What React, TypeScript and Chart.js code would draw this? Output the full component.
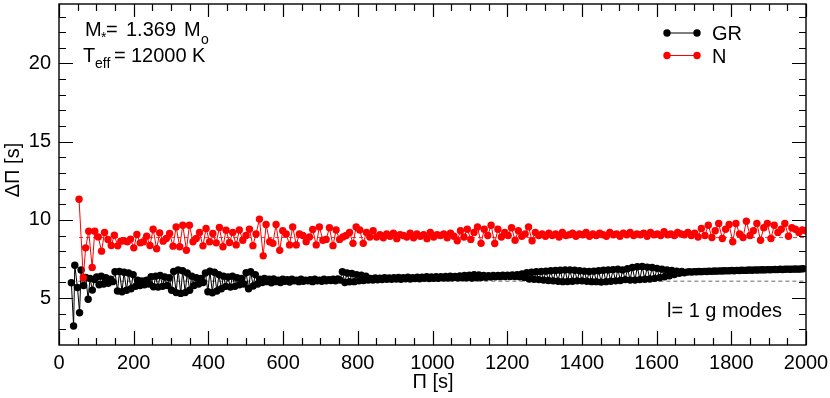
import { useEffect, useRef } from "react";
import { Chart, registerables } from "chart.js";

Chart.register(...registerables);

// ---- Data (ΔΠ_k = Π_{k+1} − Π_k) ----
const seriesLabels = ["GR", "N"];

// first period of each sequence [s]
const firstPeriodGR = 33.1;
const firstPeriodN = 53.7;

// period spacings ΔΠ [s], GR (black)
const deltaPiGR = [
  5.98, 3.21, 7.1, 5.68, 4.06, 6.79, 5.8, 6.32, 4.92, 6.26, 5.51, 6.19,
  6.35, 5.85, 6.4, 5.9, 6.3, 5.95, 6.2, 6.05,
  6.68, 5.45, 6.7, 5.4, 6.65, 5.5, 6.6, 5.6, 6.5,
  5.75, 6.15, 5.8, 6.1, 5.85, 6.15, 5.9,
  6.36, 5.72, 6.4, 5.7, 6.45, 5.75, 6.35, 5.8, 6.3,
  5.5, 6.7, 5.35, 6.79, 5.3, 6.75, 5.35, 6.6, 5.5, 6.4,
  5.8, 6.3, 5.9, 6.25, 6.0,
  6.6, 5.4, 6.72, 5.34, 6.65, 5.45, 6.5, 5.6, 6.4,
  5.75, 6.35, 5.7, 6.4, 5.75, 6.3, 5.85, 6.25, 5.9,
  6.62, 5.6, 6.68, 5.77, 6.5, 5.9,
  6.2, 6.0, 6.25, 6.05, 6.2, 5.98, 6.22, 6.05, 6.15, 6.0,
  6.2, 6.08, 6.18, 6.02, 6.2, 6.1, 6.15, 6.05, 6.2, 6.08,
  6.15, 6.1, 6.18, 6.05, 6.2, 6.1, 6.15, 6.08, 6.2, 6.1,
  6.18, 6.12, 6.2, 6.1, 6.22, 6.15,
  6.68, 6.0, 6.6, 6.04, 6.57, 6.05, 6.5, 6.1, 6.47, 6.12, 6.4, 6.15,
  6.25, 6.15, 6.28, 6.17, 6.27, 6.18, 6.3, 6.2, 6.28, 6.2,
  6.3, 6.22, 6.32, 6.2, 6.3, 6.24, 6.33, 6.22, 6.31, 6.25,
  6.34, 6.24, 6.33, 6.26, 6.36, 6.25, 6.35, 6.27, 6.37, 6.27,
  6.36, 6.29, 6.38, 6.28, 6.4, 6.3, 6.39, 6.3, 6.42, 6.3,
  6.44, 6.3, 6.46, 6.28, 6.5, 6.3, 6.48, 6.32, 6.45, 6.33,
  6.43, 6.35, 6.44, 6.36, 6.45, 6.37, 6.46, 6.38, 6.47, 6.38,
  6.48, 6.38, 6.5, 6.36, 6.55, 6.32,
  6.62, 6.22, 6.65, 6.2, 6.68, 6.18, 6.7, 6.15, 6.72, 6.12,
  6.75, 6.1, 6.76, 6.08, 6.78, 6.05, 6.8, 6.06, 6.8, 6.08,
  6.78, 6.1, 6.75, 6.1, 6.72, 6.08, 6.7, 6.05, 6.72, 6.05,
  6.75, 6.02, 6.78, 6.05, 6.8, 6.08, 6.82, 6.1, 6.85, 6.12,
  6.8, 6.18, 6.88, 6.15, 6.95, 6.15, 7.0, 6.18, 7.02, 6.2,
  6.98, 6.22, 6.95, 6.26, 6.9, 6.3, 6.85, 6.36, 6.8, 6.42,
  6.76, 6.5, 6.72, 6.58, 6.7, 6.62,
  6.66, 6.68, 6.66, 6.69, 6.68, 6.7, 6.69, 6.71, 6.7, 6.72,
  6.71, 6.73, 6.72, 6.74, 6.73, 6.75, 6.74, 6.75, 6.76, 6.75,
  6.77, 6.76, 6.78, 6.77, 6.78, 6.79, 6.78, 6.8, 6.79, 6.8,
  6.81, 6.8, 6.82, 6.81, 6.82, 6.83, 6.82, 6.84, 6.83, 6.84,
  6.85, 6.84, 6.85, 6.86, 6.85, 6.86, 6.87,
];

// period spacings ΔΠ [s], N (red)
const deltaPiN = [
  11.32, 6.3, 8.21, 9.27, 6.96, 9.27, 8.91, 8.0, 9.19, 8.74,
  8.36, 9.02, 8.34, 8.64, 8.66, 8.6, 8.77, 8.21, 9.06, 8.53,
  8.6, 8.96, 8.36, 9.4, 8.15, 9.17, 8.64, 8.81, 9.13, 8.32,
  9.55, 8.28, 9.66, 8.06, 9.66, 8.6, 8.81, 9.19, 8.34, 9.45,
  8.6, 9.13, 8.53, 9.51, 8.28, 9.34,
  8.55, 9.2, 8.4, 9.35, 8.7, 9.0, 9.4, 8.35, 9.1,
  10.05, 7.7, 9.7, 8.6, 8.5, 9.7, 8.05, 9.3, 9.1, 8.4,
  9.55, 8.4, 9.1, 9.0, 8.6, 8.9, 9.38, 8.4, 9.55, 8.7,
  8.75, 9.5, 8.35, 9.35, 8.75, 8.9, 9.0, 9.2, 8.5, 9.55,
  9.35, 8.5, 9.2, 8.9, 9.3, 8.9,
  9.05, 8.85, 9.1, 8.95, 9.15, 8.8, 9.05, 9.0, 8.9, 9.15,
  8.85, 9.1, 8.95, 9.05, 8.8, 9.2, 8.9, 9.05, 9.0, 9.1,
  8.85, 9.15, 8.95,
  8.66, 9.3, 8.9, 9.4, 8.75, 9.2, 9.55, 8.5, 9.4, 9.0,
  9.66, 8.49, 9.4, 8.9, 9.2, 9.0, 9.5, 8.7, 9.3, 8.95,
  9.1, 9.55, 8.66, 9.2, 9.0,
  9.1, 8.95, 9.15, 9.0, 9.1, 8.9, 9.2, 9.0, 9.05, 9.15,
  8.95, 9.1, 9.05, 9.2, 8.95, 9.1, 9.0, 9.15, 9.05, 8.95,
  9.2, 9.05, 9.1, 8.95, 9.15, 9.05, 9.2, 9.0, 9.1, 9.05,
  9.15, 8.95, 9.2, 9.05, 9.1, 9.0, 9.25, 9.05, 9.1, 9.0,
  9.2, 9.1, 9.05, 9.2, 9.0,
  9.15, 8.9, 9.45, 9.0, 9.66, 8.87, 9.3, 9.77, 8.81, 9.4,
  9.7, 8.6, 9.77, 9.1, 8.87, 9.91, 9.0, 9.3, 9.77, 8.7,
  9.5, 9.77, 8.81, 9.66, 9.2, 9.4, 9.77, 8.95, 9.5, 9.4,
  9.2, 9.35, 9.3,
];

// asymptotic period spacings [s] (dashed lines)
const asymptoticGR = 6.08;
const asymptoticN = 8.87;

// axes
const xRange = [0, 2000];
const yRange = [2, 23.8];
const xTickValues = [0, 200, 400, 600, 800, 1000, 1200, 1400, 1600, 1800, 2000];
const yTickValues = [5, 10, 15, 20];
const xMinorStep = 50;
const yMinorStep = 1;

const FONT = '"Liberation Sans", Arial, Helvetica, sans-serif';

// Π_{k+1} = Π_k + ΔΠ_k  (definition of the period spacing)
function toPoints(first: number, dp: number[]) {
  const pts: { x: number; y: number }[] = [];
  let p = first;
  for (let i = 0; i < dp.length; i++) {
    pts.push({ x: p, y: dp[i] });
    p += dp[i];
  }
  return pts;
}

const framePlugin = {
  id: "frameAndText",
  afterDraw(chart: any) {
    const { ctx, chartArea: a, scales } = chart;
    const x = scales.x;
    const y = scales.y;
    ctx.save();
    ctx.strokeStyle = "#000";
    ctx.lineWidth = 1.4;
    ctx.strokeRect(a.left, a.top, a.right - a.left, a.bottom - a.top);

    ctx.lineWidth = 1.2;
    ctx.beginPath();
    for (let v = xRange[0]; v <= xRange[1] + 1e-6; v += xMinorStep) {
      const px = Math.round(x.getPixelForValue(v)) + 0.5;
      const major = xTickValues.includes(v);
      const len = major ? 14 : 7;
      ctx.moveTo(px, a.bottom);
      ctx.lineTo(px, a.bottom - len);
      ctx.moveTo(px, a.top);
      ctx.lineTo(px, a.top + (major ? 13 : 7));
    }
    for (let v = Math.ceil(yRange[0] + 0.5); v <= yRange[1]; v += yMinorStep) {
      const py = Math.round(y.getPixelForValue(v)) + 0.5;
      const len = yTickValues.includes(v) ? 14 : 7;
      ctx.moveTo(a.left, py);
      ctx.lineTo(a.left + len, py);
      ctx.moveTo(a.right, py);
      ctx.lineTo(a.right - len, py);
    }
    ctx.stroke();

    ctx.fillStyle = "#000";
    ctx.textBaseline = "alphabetic";
    ctx.textAlign = "left";
    const big = `20px ${FONT}`;
    const small = `14px ${FONT}`;

    // M* = 1.369 Mo
    ctx.font = big;
    ctx.fillText("M", 85, 36);
    ctx.font = small;
    ctx.fillText("*", 101, 42);
    ctx.font = big;
    ctx.fillText("=", 106, 36);
    ctx.fillText("1.369", 126, 36);
    ctx.fillText("M", 184, 36);
    ctx.font = small;
    ctx.fillText("o", 201, 44);

    // Teff = 12000 K
    ctx.font = big;
    ctx.fillText("T", 83, 62);
    ctx.font = small;
    ctx.fillText("eff", 95, 68);
    ctx.font = big;
    ctx.fillText("=", 114, 62);
    ctx.fillText("12000", 131, 62);
    ctx.fillText("K", 192, 62);

    // legend
    const legend = [
      { label: seriesLabels[0], color: "#000", yy: 33 },
      { label: seriesLabels[1], color: "#ff0000", yy: 55.5 },
    ];
    for (const l of legend) {
      ctx.strokeStyle = l.color;
      ctx.lineWidth = 1;
      ctx.beginPath();
      ctx.moveTo(667, l.yy);
      ctx.lineTo(697, l.yy);
      ctx.stroke();
      ctx.fillStyle = l.color;
      for (const cx of [667, 697]) {
        ctx.beginPath();
        ctx.arc(cx, l.yy, 3.7, 0, Math.PI * 2);
        ctx.fill();
      }
      ctx.fillStyle = "#000";
      ctx.font = big;
      ctx.fillText(l.label, 712, l.yy + 7);
    }

    // mode label
    ctx.font = big;
    ctx.fillText("l= 1 g modes", 667, 317);

    // axis titles
    ctx.textAlign = "center";
    ctx.textBaseline = "middle";
    ctx.fillText("Π [s]", 433, 382);
    ctx.save();
    ctx.translate(13, 170);
    ctx.rotate(-Math.PI / 2);
    ctx.fillText("ΔΠ [s]", 0, 0);
    ctx.restore();

    ctx.restore();
  },
};

export default function App() {
  const ref = useRef<HTMLCanvasElement | null>(null);

  useEffect(() => {
    if (!ref.current) return;
    const grPts = toPoints(firstPeriodGR, deltaPiGR);
    const nPts = toPoints(firstPeriodN, deltaPiN);
    const chart = new Chart(ref.current, {
      type: "line",
      data: {
        datasets: [
          {
            label: seriesLabels[1],
            data: nPts,
            borderColor: "#ff0000",
            backgroundColor: "#ff0000",
            borderWidth: 1,
            pointRadius: 3.7,
            pointBorderWidth: 0,
            pointBackgroundColor: "#ff0000",
            tension: 0,
            order: 0,
          },
          {
            label: seriesLabels[0],
            data: grPts,
            borderColor: "#000",
            backgroundColor: "#000",
            borderWidth: 1,
            pointRadius: 3.7,
            pointBorderWidth: 0,
            pointBackgroundColor: "#000",
            tension: 0,
            order: 1,
          },
          {
            label: "asymN",
            data: [
              { x: firstPeriodN, y: asymptoticN },
              { x: xRange[1], y: asymptoticN },
            ],
            borderColor: "#ff0000",
            borderWidth: 0.8,
            borderDash: [4, 3],
            pointRadius: 0,
            order: 2,
          },
          {
            label: "asymGR",
            data: [
              { x: firstPeriodGR, y: asymptoticGR },
              { x: xRange[1], y: asymptoticGR },
            ],
            borderColor: "#444",
            borderWidth: 0.8,
            borderDash: [4, 3],
            pointRadius: 0,
            order: 3,
          },
        ],
      },
      options: {
        animation: false,
        responsive: false,
        layout: { padding: { left: 0, right: 24, top: 3, bottom: 0 } },
        plugins: { legend: { display: false }, tooltip: { enabled: false } },
        scales: {
          x: {
            type: "linear",
            bounds: "data",
            min: xRange[0],
            max: xRange[1],
            grid: { display: false, drawTicks: false },
            border: { display: false },
            ticks: {
              color: "#000",
              font: { family: FONT, size: 20 },
              padding: 6,
              maxRotation: 0,
              autoSkip: false,
              callback: (v: any) => String(v),
            },
            afterBuildTicks: (s: any) => {
              s.ticks = xTickValues.map((v) => ({ value: v }));
            },
            afterFit: (s: any) => {
              s.height = 53;
              s.paddingLeft = 0;
              s.paddingRight = 0;
            },
          },
          y: {
            type: "linear",
            bounds: "data",
            min: yRange[0],
            max: yRange[1],
            grid: { display: false, drawTicks: false },
            border: { display: false },
            ticks: {
              color: "#000",
              font: { family: FONT, size: 20 },
              padding: 8,
              autoSkip: false,
              callback: (v: any) => String(v),
            },
            afterBuildTicks: (s: any) => {
              s.ticks = yTickValues.map((v) => ({ value: v }));
            },
            afterFit: (s: any) => {
              s.width = 59;
              s.paddingTop = 0;
              s.paddingBottom = 0;
            },
          },
        },
      },
      plugins: [framePlugin],
    });
    return () => chart.destroy();
  }, []);

  return (
    <div style={{ position: "absolute", left: 0, top: 0, width: 830, height: 398, background: "#fff" }}>
      <canvas ref={ref} width={830} height={398} style={{ display: "block" }} />
    </div>
  );
}
